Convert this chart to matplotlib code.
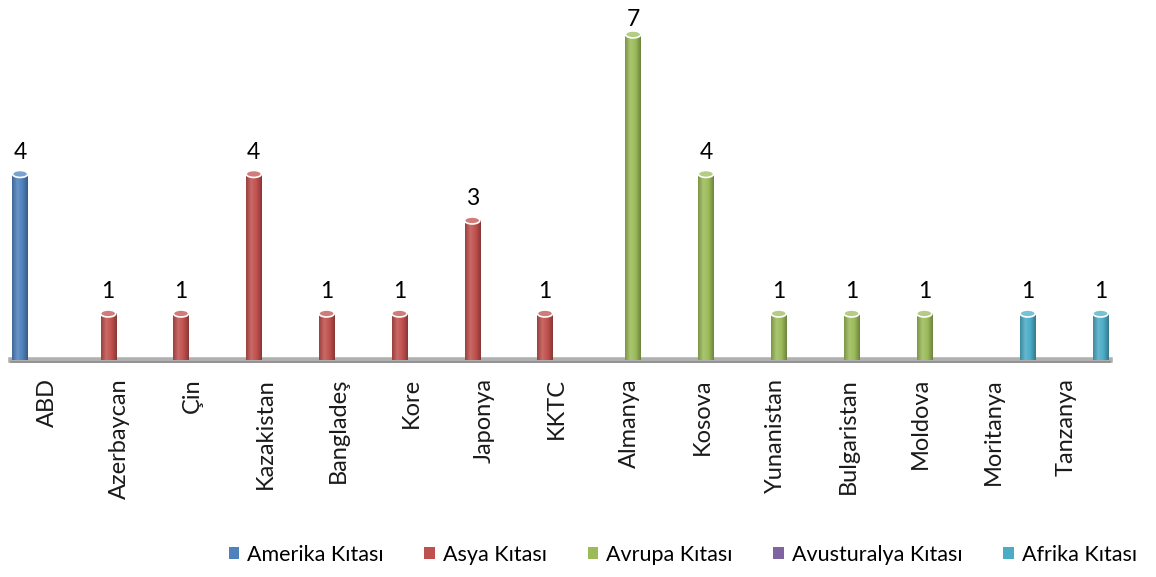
import numpy as np
import matplotlib
matplotlib.use("Agg")
import matplotlib.pyplot as plt
from matplotlib.colors import LinearSegmentedColormap, to_rgb
from matplotlib.patches import Ellipse, Patch

plt.rcParams["font.family"] = ["Lato", "DejaVu Sans"]

# ---------------------------------------------------------------------------
# Data
# ---------------------------------------------------------------------------
categories = ["ABD", "Azerbaycan", "Çin", "Kazakistan", "Bangladeş", "Kore",
              "Japonya", "KKTC", "Almanya", "Kosova", "Yunanistan",
              "Bulgaristan", "Moldova", "Moritanya", "Tanzanya"]

amerika     = [4, 0, 0, 0, 0, 0, 0, 0, 0, 0, 0, 0, 0, 0, 0]
asya        = [0, 1, 1, 4, 1, 1, 3, 1, 0, 0, 0, 0, 0, 0, 0]
avrupa      = [0, 0, 0, 0, 0, 0, 0, 0, 7, 4, 1, 1, 1, 0, 0]
avusturalya = [0, 0, 0, 0, 0, 0, 0, 0, 0, 0, 0, 0, 0, 0, 0]
afrika      = [0, 0, 0, 0, 0, 0, 0, 0, 0, 0, 0, 0, 0, 1, 1]

series_names = ["Amerika Kıtası", "Asya Kıtası", "Avrupa Kıtası",
                "Avusturalya Kıtası", "Afrika Kıtası"]
series_vals = [amerika, asya, avrupa, avusturalya, afrika]
colors = ["#4F81BD", "#C0504D", "#9BBB59", "#8064A2", "#4BACC6"]


def shade(c, f):
    r = np.array(to_rgb(c))
    if f >= 0:
        return tuple(r + (1 - r) * f)
    return tuple(r * (1 + f))


fig = plt.figure(figsize=(11.56, 5.77), dpi=100)
ax = fig.add_axes([0.0092, 1 - 360 / 577, 0.951, 360 / 577])

x = np.arange(len(categories))
bar_w = 0.21
cap_h = 0.15
ymax = 7.74
vmax = max(max(v) for v in series_vals)

for k, (vals, col) in enumerate(zip(series_vals, colors)):
    xs = x + (k - 2) * 0.21 + 0.05
    bars = ax.bar(xs, vals, width=bar_w, color=col, zorder=3, linewidth=0)
    cmap = LinearSegmentedColormap.from_list(
        f"cyl{k}", [shade(col, -0.2), shade(col, 0.15), col, shade(col, -0.3)])
    grad = np.linspace(0, 1, 64).reshape(1, -1)
    for b, v in zip(bars, vals):
        if v <= 0:
            continue
        x0 = b.get_x()
        im = ax.imshow(grad, cmap=cmap, aspect="auto", zorder=3.5,
                       extent=[x0, x0 + bar_w, 0, v], interpolation="bilinear")
        im.set_clip_path(b)
        ax.add_patch(Ellipse((x0 + bar_w / 2, v), bar_w, cap_h,
                             facecolor=shade(col, 0.25), edgecolor="white",
                             lw=1.2, zorder=4))
        # the tallest label gets squeezed toward its bar, like Excel does
        off = 3 if v == vmax else 8
        ax.annotate(str(v), (x0 + bar_w / 2, v), xytext=(0, off),
                    textcoords="offset points", ha="center", va="bottom",
                    fontsize=16.5, color="black")

# floor
ax.axhline(0, color="#b0b0b0", lw=4, zorder=2, clip_on=False)
ax.axhline(-0.045, color="#8c8c8c", lw=1.2, zorder=2.1, clip_on=False)

ax.set_xlim(-0.5, 14.6)
ax.set_ylim(0, ymax)
ax.set_xticks(x)
ax.set_xticklabels(categories, rotation=90, ha="center", va="top",
                   fontsize=17, color="#1a1a1a")
ax.tick_params(axis="x", length=0, pad=13)
ax.set_yticks([])
for s in ax.spines.values():
    s.set_visible(False)

handles = [Patch(facecolor=c) for c in colors]
fig.legend(handles, series_names, loc="center right",
           bbox_to_anchor=(1.0, 1 - 555 / 577), ncol=5, frameon=False,
           handlelength=0.5, handleheight=0.5, handletextpad=0.35,
           columnspacing=1.9, fontsize=15.5)

fig.savefig("out.png", dpi=100)
